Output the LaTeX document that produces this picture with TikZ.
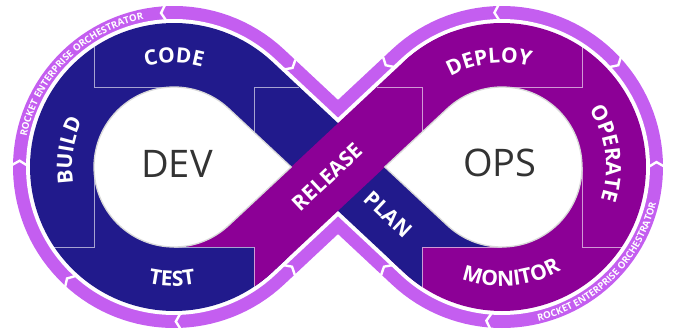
\documentclass[tikz,border=0pt]{standalone}
\usepackage{fontspec}
\setmainfont{Open Sans}
\usetikzlibrary{calc,decorations.text}
\definecolor{ringc}{HTML}{C45EF0}
\definecolor{bandblue}{HTML}{211A8C}
\definecolor{bandpurple}{HTML}{8C0096}
\definecolor{devgray}{HTML}{333333}
\newcommand\lblf{\fontsize{21}{21}\selectfont\bfseries}
\newcommand\ringf{\fontsize{9.6}{9.6}\selectfont\bfseries}
\begin{document}
\begin{tikzpicture}[x=1pt,y=1pt,
  ringline/.style={line width=98pt, draw=ringc},
  gapline/.style={line width=72pt, draw=white},
  blueband/.style={line width=64pt, draw=bandblue},
  purpleband/.style={line width=64pt, draw=bandpurple},
  segline/.style={draw=white, draw opacity=0.6, line width=0.9pt},
  chev/.style={draw=white, line width=2.4pt},
  tear/.style={fill=white, draw=gray!30, line width=1.3pt},
  bigtxt/.style={text=devgray, font=\fontsize{38}{38}\selectfont},
  midtxt/.style={text=white, font=\lblf, inner sep=0pt},
  chevron/.pic={\draw[chev] (-7.5,-2.2) -- (0,2.2) -- (7.5,-2.2);}
]
\useasboundingbox (0,0) rectangle (673,335);
\coordinate (L) at (174,168);
\coordinate (R) at (502,168);
\coordinate (C) at (338,168);
\coordinate (T1) at ($(L)+(46.9:112)$);
\coordinate (T2) at ($(L)+(-46.9:112)$);
\coordinate (T3) at ($(R)+(133.1:112)$);
\coordinate (T4) at ($(R)+(-133.1:112)$);
\coordinate (tipL) at (291.2,168);
\coordinate (tipR) at (384.8,168);

% outer ring and gap
\draw[ringline] (T1) arc[start angle=46.9,end angle=313.1,radius=112] -- (T3) arc[start angle=133.1,end angle=-133.1,radius=112] -- cycle;
\draw[gapline] (T1) arc[start angle=46.9,end angle=313.1,radius=112] -- (T3) arc[start angle=133.1,end angle=-133.1,radius=112] -- cycle;

% ring chevrons
\path ($(L)+(94:154.5)$) pic[rotate=94] {chevron};
\path ($(L)+(178.5:154.5)$) pic[rotate=358.5] {chevron};
\path ($(L)+(227:154.5)$) pic[rotate=47] {chevron};
\path ($(L)+(-88.5:154.5)$) pic[rotate=91.5] {chevron};
\path ($(L)+(40.7:154.5)$) pic[rotate=220.7] {chevron};
\path ($(L)+(-41:154.5)$) pic[rotate=-41] {chevron};
\path ($(R)+(92:154.5)$) pic[rotate=92] {chevron};
\path ($(R)+(1:154.5)$) pic[rotate=1] {chevron};
\path ($(R)+(-95:154.5)$) pic[rotate=85] {chevron};
\path ($(R)+(138:154.5)$) pic[rotate=138] {chevron};
\path ($(R)+(42:154.5)$) pic[rotate=222] {chevron};
\path ($(R)+(-139:154.5)$) pic[rotate=41] {chevron};

% ring texts
\path[decorate, decoration={text along path, text align=center, text color=white,
  text={|\ringf|ROCKET ENTERPRISE ORCHESTRATOR}}]
  ($(L)+(180:150.5)$) arc[start angle=180,end angle=90,radius=150.5];
\path[decorate, decoration={text along path, text align=center, text color=white,
  text={|\ringf|ROCKET ENTERPRISE ORCHESTRATOR}}]
  ($(R)+(-90:158.2)$) arc[start angle=-90,end angle=0,radius=158.2];

% bands
\draw[purpleband] (T3) arc[start angle=133.1,end angle=-133.1,radius=112] -- ($(T4)!20pt!(T1)$);
\begin{scope}
  \clip (0,0) -- (422,0) -- (422,88) -- (673,88) -- (673,335) -- (0,335) -- cycle;
  \draw[blueband] ($(R)+(-100:112)$) arc[start angle=-100,end angle=-133.1,radius=112] -- (T1)
    arc[start angle=46.9,end angle=313.1,radius=112] -- ($(T2)!20pt!(T3)$);
\end{scope}
\begin{scope}
  \clip (0,88) -- (254,88) -- (254,0) -- (673,0) -- (673,335) -- (0,335) -- cycle;
  \draw[purpleband] ($(L)+(-80:112)$) arc[start angle=-80,end angle=-46.9,radius=112] -- (T3)
    arc[start angle=133.1,end angle=110,radius=112];
\end{scope}

% segment boundary lines
\draw[segline] (94,287.7) -- (94,248) -- (174,248);
\draw[segline] (299.3,248) -- (254,248) -- (254,202.7);
\draw[segline] (582,287.7) -- (582,248) -- (502,248);
\draw[segline] (376.7,248) -- (422,248) -- (422,202.7);
\draw[segline] (94,168) -- (94,88) -- (54.3,88);
\draw[segline] (174,88) -- (254,88) -- (254,48.3);
\draw[segline] (502,88) -- (422,88) -- (422,48.3);
\draw[segline] (582,168) -- (582,88) -- (621.7,88);

% inner teardrops
\filldraw[tear] ($(L)+(46.9:80)$) arc[start angle=46.9,end angle=313.1,radius=80] -- (tipL) -- cycle;
\filldraw[tear] ($(R)+(133.1:80)$) arc[start angle=133.1,end angle=-133.1,radius=80] -- (tipR) -- cycle;

% band labels
\path[decorate, decoration={text along path, text align=center, text color=white, text={|\lblf|CODE}}]
  ($(L)+(130:104)$) arc[start angle=130,end angle=50,radius=104];
\path[decorate, decoration={text along path, text align=center, text color=white, text={|\lblf|BUILD}}]
  ($(L)+(211:102)$) arc[start angle=211,end angle=131,radius=102];
\path[decorate, decoration={text along path, text align=center, text color=white, text={|\lblf|TEST}}]
  ($(L)+(-131:119)$) arc[start angle=-131,end angle=-51,radius=119];
\path[decorate, decoration={text along path, text align=center, text color=white, text={|\lblf|DEPLOY}}]
  ($(R)+(140:104)$) arc[start angle=140,end angle=54,radius=104];
\path[decorate, decoration={text along path, text align=center, text color=white, text={|\lblf|OPERATE}}]
  ($(R)+(52:104)$) arc[start angle=52,end angle=-37,radius=104];
\path[decorate, decoration={text along path, text align=center, text color=white, text={|\lblf|MONITOR}}]
  ($(R)+(-130:119)$) arc[start angle=-130,end angle=-40,radius=119];
\node[midtxt, rotate=43.1] (release) at (327.3,158) {RELEASE};
\node[midtxt, rotate=-43.1] (plan) at (388.2,121.1) {PLAN};

\node[bigtxt] (dev) at (177,171.5) {DEV};
\node[bigtxt] (ops) at (500,172.5) {OPS};
\end{tikzpicture}
\end{document}
